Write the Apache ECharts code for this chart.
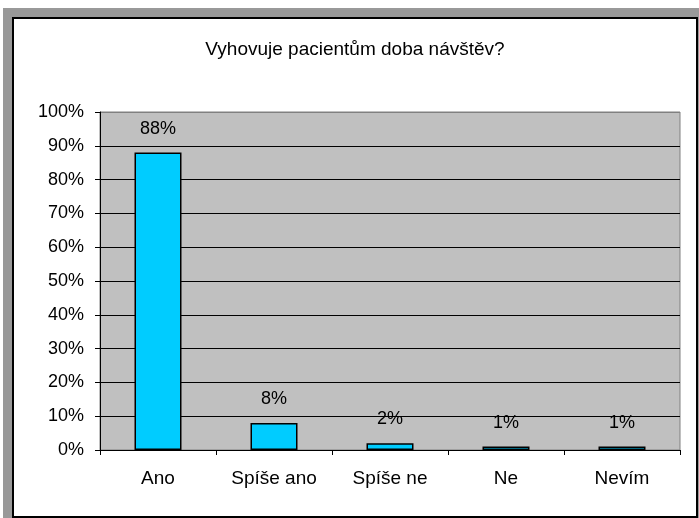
<!DOCTYPE html>
<html>
<head>
<meta charset="utf-8">
<script src="https://cdn.jsdelivr.net/npm/echarts@6/dist/echarts.min.js"></script>
<style>
  body { margin: 0; background: #fff; }
  #frame { position: absolute; left: 3px; top: 8px; width: 696px; height: 510px; background: #999999; }
  #chart { position: absolute; left: 12px; top: 17px; width: 682px; height: 497px; border: 2px solid #000; background: #fff; }
</style>
</head>
<body>
<div id="frame"></div>
<div id="chart"></div>
<script>
// data
const categories = ['Ano', 'Spíše ano', 'Spíše ne', 'Ne', 'Nevím'];
const values = [88, 8, 2, 1, 1];
const titleText = 'Vyhovuje pacientům doba návštěv?';

const font = 'Liberation Sans, Arial, sans-serif';

// grid lines black, top one is the gray plot border
const splitColors = [];
for (let i = 0; i < 10; i++) splitColors.push('#000');
splitColors.push('#808080');

const chart = echarts.init(document.getElementById('chart'));
chart.setOption({
  animation: false,
  title: {
    text: titleText,
    left: 336,
    top: 16,
    textAlign: 'center',
    textStyle: { fontFamily: font, fontSize: 19, fontWeight: 'normal', color: '#000' }
  },
  grid: {
    left: 86, top: 93, width: 580, height: 338,
    show: true, backgroundColor: '#C0C0C0', borderColor: '#808080', borderWidth: 1
  },
  xAxis: {
    type: 'category',
    data: categories,
    axisLine: { lineStyle: { color: '#000', width: 1 } },
    axisTick: { show: true, length: 5, lineStyle: { color: '#000' } },
    axisLabel: { margin: 19, color: '#000', fontFamily: font, fontSize: 19 }
  },
  yAxis: {
    type: 'value',
    min: 0, max: 100, interval: 10,
    axisLine: { show: true, lineStyle: { color: '#000', width: 1 } },
    axisTick: { show: true, length: 5, lineStyle: { color: '#000' } },
    axisLabel: { formatter: '{value}%', margin: 16, color: '#000', fontFamily: font, fontSize: 18 },
    splitLine: { show: true, lineStyle: { color: splitColors, width: 1 } }
  },
  series: [{
    type: 'bar',
    data: values,
    barWidth: 47,
    itemStyle: { color: '#00CCFF', borderColor: '#000', borderWidth: 1.5 },
    label: {
      show: true, position: 'top', distance: 15,
      formatter: '{c}%', color: '#000', fontFamily: font, fontSize: 18
    }
  }]
});
</script>
</body>
</html>
